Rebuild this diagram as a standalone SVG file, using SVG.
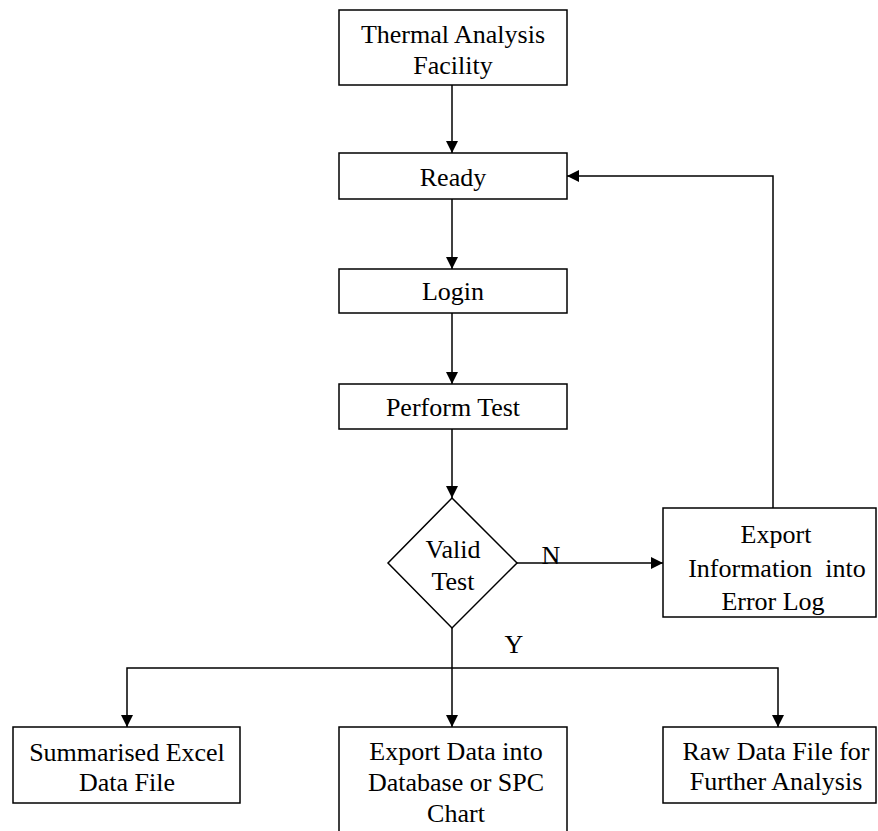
<svg xmlns="http://www.w3.org/2000/svg" width="878" height="831" viewBox="0 0 878 831">
<style>
.box{fill:#fff;stroke:#000;stroke-width:1.5}
.t{font-family:"Liberation Serif","Times New Roman",serif;font-size:26px;fill:#000;text-anchor:middle}
.c{fill:none;stroke:#000;stroke-width:1.5}
</style>
<defs>
<marker id="ah" markerUnits="userSpaceOnUse" markerWidth="13" markerHeight="12" refX="12" refY="6" orient="auto">
<path d="M0,0 L12,6 L0,12 z" fill="#000"/>
</marker>
</defs>
<rect width="878" height="831" fill="#fff"/>
<g id="connectors">
<path class="c" d="M452,85 V153" marker-end="url(#ah)"/>
<path class="c" d="M452,199 V269" marker-end="url(#ah)"/>
<path class="c" d="M452,313 V384" marker-end="url(#ah)"/>
<path class="c" d="M452,429 V498" marker-end="url(#ah)"/>
<path class="c" d="M517,563 H663" marker-end="url(#ah)"/>
<path class="c" d="M773,508 V176 H567" marker-end="url(#ah)"/>
<path class="c" d="M452,628 V727" marker-end="url(#ah)"/>
<path class="c" d="M452,668 H127 V727" marker-end="url(#ah)"/>
<path class="c" d="M452,668 H778 V727" marker-end="url(#ah)"/>
<text class="t" x="551" y="564">N</text>
<text class="t" x="514" y="653">Y</text>
</g>
<g id="thermal">
<rect class="box" x="339" y="10" width="228" height="75"/>
<text class="t" x="453" y="43">Thermal Analysis</text>
<text class="t" x="453" y="74">Facility</text>
</g>
<g id="ready">
<rect class="box" x="339" y="153" width="228" height="46"/>
<text class="t" x="453" y="186">Ready</text>
</g>
<g id="login">
<rect class="box" x="339" y="269" width="228" height="44"/>
<text class="t" x="453" y="300">Login</text>
</g>
<g id="perform">
<rect class="box" x="339" y="384" width="228" height="45"/>
<text class="t" x="453" y="416">Perform Test</text>
</g>
<g id="valid">
<polygon class="box" points="452,498 517,563 452,628 388,563"/>
<text class="t" x="453" y="558">Valid</text>
<text class="t" x="453" y="590">Test</text>
</g>
<g id="errorlog">
<rect class="box" x="663" y="508" width="213" height="109"/>
<text class="t" x="776" y="543">Export</text>
<text class="t" x="777" y="577" xml:space="preserve">Information  into</text>
<text class="t" x="773" y="610">Error Log</text>
</g>
<g id="excel">
<rect class="box" x="13" y="727" width="227" height="76"/>
<text class="t" x="127" y="761">Summarised Excel</text>
<text class="t" x="127" y="791">Data File</text>
</g>
<g id="database">
<rect class="box" x="339" y="727" width="228" height="112"/>
<text class="t" x="456" y="760">Export Data into</text>
<text class="t" x="456" y="791">Database or SPC</text>
<text class="t" x="456" y="822">Chart</text>
</g>
<g id="rawdata">
<rect class="box" x="663" y="727" width="213" height="76"/>
<text class="t" x="776" y="760">Raw Data File for</text>
<text class="t" x="776" y="790">Further Analysis</text>
</g>
</svg>
